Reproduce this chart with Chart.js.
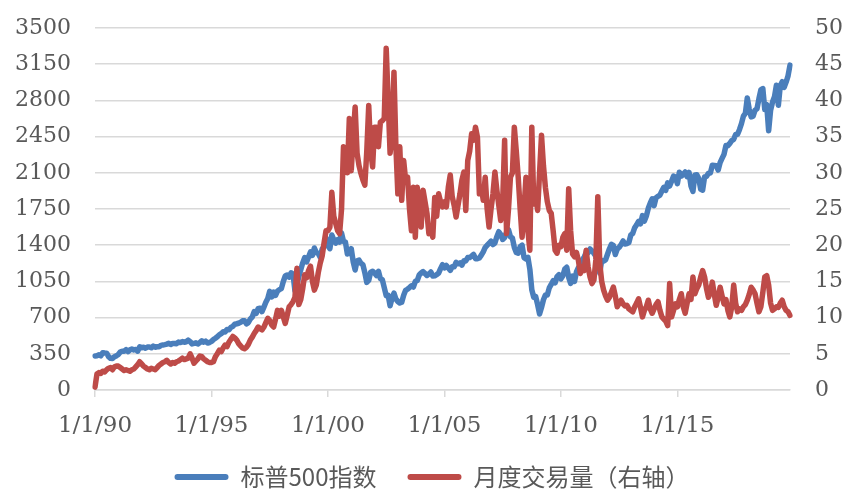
<!DOCTYPE html>
<html lang="zh">
<head>
<meta charset="UTF-8">
<title>标普500指数与月度交易量</title>
<script src="https://cdn.jsdelivr.net/npm/chart.js"></script>
<style>
    body { margin: 0; background: #fff; }
    #wrap { width: 864px; height: 504px; }
</style>
</head>
<body>
<div id="wrap"><canvas id="chart" width="864" height="504"></canvas></div>
<script>
// monthly data, Jan 1990 .. Nov 2019
const startYear = 1990;

// S&P 500 month-end level (left axis)
const spx = [
    329.1, 331.9, 339.9, 330.8, 361.2, 358.0, 356.2, 322.6, 306.1, 304.0, 322.2, 330.2,
    343.9, 367.1, 375.2, 375.3, 389.8, 371.2, 387.8, 395.4, 387.9, 392.5, 375.2, 417.1,
    408.8, 412.7, 403.7, 414.9, 415.4, 408.1, 424.2, 414.0, 417.8, 418.7, 431.4, 435.7,
    438.8, 443.4, 451.7, 440.2, 450.2, 450.5, 448.1, 463.6, 458.9, 467.8, 461.8, 466.5,
    481.6, 467.1, 445.8, 450.9, 456.5, 444.3, 458.3, 475.5, 462.7, 472.4, 454.0, 459.3,
    470.4, 487.4, 500.7, 514.7, 533.4, 544.8, 562.1, 561.9, 584.4, 581.5, 605.4, 615.9,
    636.0, 640.4, 645.5, 654.2, 669.1, 670.6, 639.9, 651.9, 687.3, 705.3, 757.0, 740.7,
    786.2, 791.0, 757.1, 801.3, 848.3, 885.1, 954.3, 899.5, 947.3, 914.6, 955.4, 970.4,
    980.3, 1049.3, 1101.8, 1111.8, 1090.8, 1133.8, 1120.7, 957.3, 1017.0, 1098.7, 1163.6, 1229.2,
    1279.6, 1238.3, 1286.4, 1335.2, 1301.8, 1372.7, 1328.7, 1320.4, 1282.7, 1362.9, 1388.9, 1469.3,
    1394.5, 1366.4, 1498.6, 1452.4, 1420.6, 1454.6, 1430.8, 1517.7, 1436.5, 1429.4, 1315.2, 1320.3,
    1366.0, 1239.9, 1160.3, 1249.5, 1255.8, 1224.4, 1211.2, 1133.6, 1040.9, 1059.8, 1139.5, 1148.1,
    1130.2, 1106.7, 1147.4, 1076.9, 1067.1, 989.8, 911.6, 916.1, 815.3, 885.8, 936.3, 879.8,
    855.7, 841.2, 848.2, 916.9, 963.6, 974.5, 990.3, 1008.0, 996.0, 1050.7, 1058.2, 1111.9,
    1131.1, 1144.9, 1126.2, 1107.3, 1120.7, 1140.8, 1101.7, 1104.2, 1114.6, 1130.2, 1173.8, 1211.9,
    1181.3, 1203.6, 1180.6, 1156.9, 1191.5, 1191.3, 1234.2, 1220.3, 1228.8, 1207.0, 1249.5, 1248.3,
    1280.1, 1280.7, 1294.9, 1310.6, 1270.1, 1270.2, 1276.7, 1303.8, 1335.9, 1377.9, 1400.6, 1418.3,
    1438.2, 1406.8, 1420.9, 1482.4, 1530.6, 1503.4, 1455.3, 1474.0, 1526.8, 1549.4, 1481.1, 1468.4,
    1378.6, 1330.6, 1322.7, 1385.6, 1400.4, 1280.0, 1267.4, 1282.8, 1166.4, 968.8, 896.2, 903.3,
    825.9, 735.1, 797.9, 872.8, 919.1, 919.3, 987.5, 1020.6, 1057.1, 1036.2, 1095.6, 1115.1,
    1073.9, 1104.5, 1169.4, 1186.7, 1089.4, 1030.7, 1101.6, 1049.3, 1141.2, 1183.3, 1180.6, 1257.6,
    1286.1, 1327.2, 1325.8, 1363.6, 1345.2, 1320.6, 1292.3, 1219.0, 1131.4, 1253.3, 1247.0, 1257.6,
    1312.4, 1365.7, 1408.5, 1397.9, 1310.3, 1362.2, 1379.3, 1406.6, 1440.7, 1412.2, 1416.2, 1426.2,
    1498.1, 1514.7, 1569.2, 1597.6, 1630.7, 1606.3, 1685.7, 1633.0, 1681.6, 1756.5, 1805.8, 1848.4,
    1782.6, 1859.5, 1872.3, 1883.9, 1923.6, 1960.2, 1930.7, 2003.4, 1972.3, 2018.1, 2067.6, 2058.9,
    1995.0, 2104.5, 2067.9, 2085.5, 2107.4, 2063.1, 2103.8, 1972.2, 1920.0, 2079.4, 2080.4, 2043.9,
    1940.2, 1932.2, 2059.7, 2065.3, 2096.9, 2098.9, 2173.6, 2170.9, 2168.3, 2126.2, 2198.8, 2238.8,
    2278.9, 2363.6, 2362.7, 2384.2, 2411.8, 2423.4, 2470.3, 2471.7, 2519.4, 2575.3, 2647.6, 2673.6,
    2823.8, 2713.8, 2640.9, 2648.1, 2705.3, 2718.4, 2816.3, 2901.5, 2914.0, 2711.7, 2760.2, 2506.9,
    2704.1, 2784.5, 2834.4, 2945.8, 2752.1, 2941.8, 2980.4, 2926.5, 2976.7, 3037.6, 3141.0
];

// monthly trading volume (right axis)
const volume = [
    0.4, 2.2, 2.4, 2.3, 2.6, 2.5, 2.8, 3.0, 3.1, 2.8, 3.2, 3.3,
    3.3, 3.1, 2.9, 2.7, 2.8, 2.7, 2.6, 2.8, 2.9, 3.2, 3.5, 3.9,
    3.6, 3.3, 3.1, 2.9, 2.8, 3.0, 2.9, 2.8, 3.1, 3.4, 3.6, 3.8,
    3.9, 4.1, 3.8, 3.6, 3.8, 3.7, 3.9, 4.0, 4.2, 4.4, 4.2, 4.3,
    4.4, 5.0, 4.4, 3.7, 4.0, 4.3, 4.7, 4.6, 4.3, 4.1, 3.9, 3.8,
    3.8, 3.9, 4.6, 5.0, 5.5, 5.3, 5.8, 6.2, 6.0, 6.6, 7.0, 7.4,
    7.2, 6.9, 6.4, 6.1, 5.8, 5.7, 5.9, 6.3, 6.9, 7.3, 7.8, 8.2,
    8.7, 8.5, 8.3, 8.7, 9.3, 9.9, 9.6, 9.0, 8.7, 9.8, 11.0, 10.2,
    11.0, 10.1, 9.2, 10.3, 11.5, 11.8, 12.2, 12.8, 16.8, 11.8, 12.5, 14.0,
    15.9, 15.5, 16.5, 17.1, 15.0, 13.8, 14.5, 16.2, 17.5, 18.5, 20.3, 22.0,
    22.0, 22.5, 27.3, 24.0, 23.0, 22.0, 21.6, 25.0, 33.6, 33.0, 30.0, 37.5,
    30.3, 35.0, 39.1, 32.7, 31.0, 29.9, 29.0, 28.3, 33.0, 39.3, 33.0, 30.8,
    36.3, 36.3, 33.6, 37.0, 37.2, 37.5, 47.2, 40.0, 32.7, 35.0, 43.9, 33.6,
    27.1, 33.6, 26.2, 31.7, 29.0, 29.4, 25.0, 22.0, 28.0, 21.1, 28.0, 25.0,
    22.5, 27.6, 26.0, 24.4, 21.6, 22.0, 21.1, 26.6, 24.0, 27.1, 26.0, 25.3,
    26.0, 25.3, 28.0, 29.7, 26.7, 25.5, 23.9, 25.5, 27.1, 29.0, 30.1, 24.8,
    31.7, 33.0, 35.4, 34.5, 36.3, 34.9, 27.1, 28.0, 26.2, 29.4, 25.0, 22.5,
    25.0, 27.1, 30.1, 27.6, 25.5, 23.4, 26.0, 34.5, 21.6, 25.0, 29.4, 30.0,
    36.3, 33.0, 29.4, 25.0, 21.1, 25.0, 29.4, 22.0, 19.3, 36.3, 25.7, 27.0,
    24.8, 30.0, 35.2, 31.0, 28.0, 26.0, 24.8, 24.4, 22.0, 19.3, 18.9, 20.0,
    19.8, 21.1, 21.6, 19.3, 27.8, 22.0, 18.8, 18.4, 19.0, 17.9, 16.1, 17.0,
    16.5, 19.3, 17.0, 15.6, 14.7, 15.2, 18.0, 26.7, 17.5, 15.0, 13.8, 13.0,
    12.4, 12.8, 13.5, 14.2, 13.0, 11.5, 12.0, 12.4, 11.9, 11.6, 11.7, 11.2,
    11.0, 10.8, 11.5, 12.0, 12.6, 11.4, 10.1, 11.0, 11.5, 12.4, 11.2, 10.6,
    11.2, 11.8, 12.2, 11.0, 10.1, 9.8, 9.5, 8.9, 14.7, 10.1, 11.0, 11.9,
    11.5, 12.5, 13.3, 11.5, 10.6, 12.0, 13.3, 12.5, 15.6, 13.3, 14.0, 14.5,
    15.6, 16.5, 15.6, 14.0, 12.8, 13.5, 14.9, 13.2, 11.7, 12.8, 14.2, 13.0,
    11.9, 12.5, 11.0, 10.1, 11.5, 14.5, 12.0, 10.8, 11.2, 11.0, 11.5, 11.8,
    12.4, 13.2, 14.2, 13.8, 13.3, 12.0, 10.8, 11.5, 13.5, 15.6, 15.8, 14.5,
    12.0, 11.0, 11.2, 11.5, 11.4, 12.0, 12.4, 11.5, 11.0, 10.8, 10.3
];

// category labels m/1/yy
const categories = spx.map((_, i) => {
    const yy = String(startYear + Math.floor(i / 12)).slice(2);
    return (i % 12 + 1) + '/1/' + yy;
});
const labelEvery = 60; // one label every 5 years

const blue = '#4a7ebb';
const red = '#be4b48';
const textColor = '#595959';
const gridColor = '#d9d9d9';
const tickFont = { family: '"DejaVu Serif", serif', size: 22 };

new Chart(document.getElementById('chart'), {
    type: 'line',
    data: {
        labels: categories,
        datasets: [
            {
                label: '标普500指数',
                data: spx,
                yAxisID: 'y',
                borderColor: blue,
                backgroundColor: blue,
                borderWidth: 5.5,
                pointRadius: 0,
                borderJoinStyle: 'round',
                borderCapStyle: 'round',
                order: 2
            },
            {
                label: '月度交易量（右轴）',
                data: volume,
                yAxisID: 'y1',
                borderColor: red,
                backgroundColor: red,
                borderWidth: 5.5,
                pointRadius: 0,
                borderJoinStyle: 'round',
                borderCapStyle: 'round',
                order: 1
            }
        ]
    },
    options: {
        responsive: false,
        animation: false,
        layout: { padding: { top: 28, bottom: 5, left: 0, right: 0 } },
        plugins: {
            tooltip: { enabled: false },
            legend: {
                position: 'bottom',
                labels: {
                    font: { family: '"Noto Sans CJK SC", sans-serif', size: 24 },
                    color: textColor,
                    boxWidth: 54,
                    boxHeight: 6,
                    useBorderRadius: true,
                    borderRadius: 3,
                    padding: 31,
                    sort: (a, b) => a.datasetIndex - b.datasetIndex,
                    generateLabels: chart => Chart.defaults.plugins.legend.labels
                        .generateLabels(chart).map(l => ({ ...l, lineWidth: 0 }))
                }
            }
        },
        scales: {
            x: {
                afterFit: s => { s.height = 44; },
                grid: {
                    drawOnChartArea: false,
                    tickLength: 7,
                    lineWidth: 1.5,
                    color: c => (c.index % labelEvery === 0 ? gridColor : 'transparent')
                },
                border: { display: true, color: gridColor, width: 1.5 },
                ticks: {
                    autoSkip: false,
                    maxRotation: 0,
                    minRotation: 0,
                    padding: 15,
                    color: textColor,
                    font: { family: '"DejaVu Serif", serif', size: 23 },
                    callback: function (v, i) {
                        return i % labelEvery === 0 ? this.getLabelForValue(v) : '';
                    }
                }
            },
            y: {
                position: 'left',
                min: 0,
                max: 3500,
                afterFit: s => { s.width = 95; },
                grid: {
                    color: gridColor,
                    lineWidth: 1.5,
                    drawTicks: true,
                    tickLength: 24,
                    tickColor: 'transparent'
                },
                border: { display: false },
                ticks: {
                    stepSize: 350,
                    padding: 0,
                    color: textColor,
                    font: tickFont,
                    callback: v => String(v)
                }
            },
            y1: {
                position: 'right',
                min: 0,
                max: 50,
                afterFit: s => { s.width = 74; },
                grid: {
                    drawOnChartArea: false,
                    drawTicks: true,
                    tickLength: 25,
                    tickColor: 'transparent'
                },
                border: { display: false },
                ticks: {
                    stepSize: 5,
                    padding: 0,
                    color: textColor,
                    font: tickFont,
                    callback: v => String(v)
                }
            }
        }
    }
});
</script>
</body>
</html>
